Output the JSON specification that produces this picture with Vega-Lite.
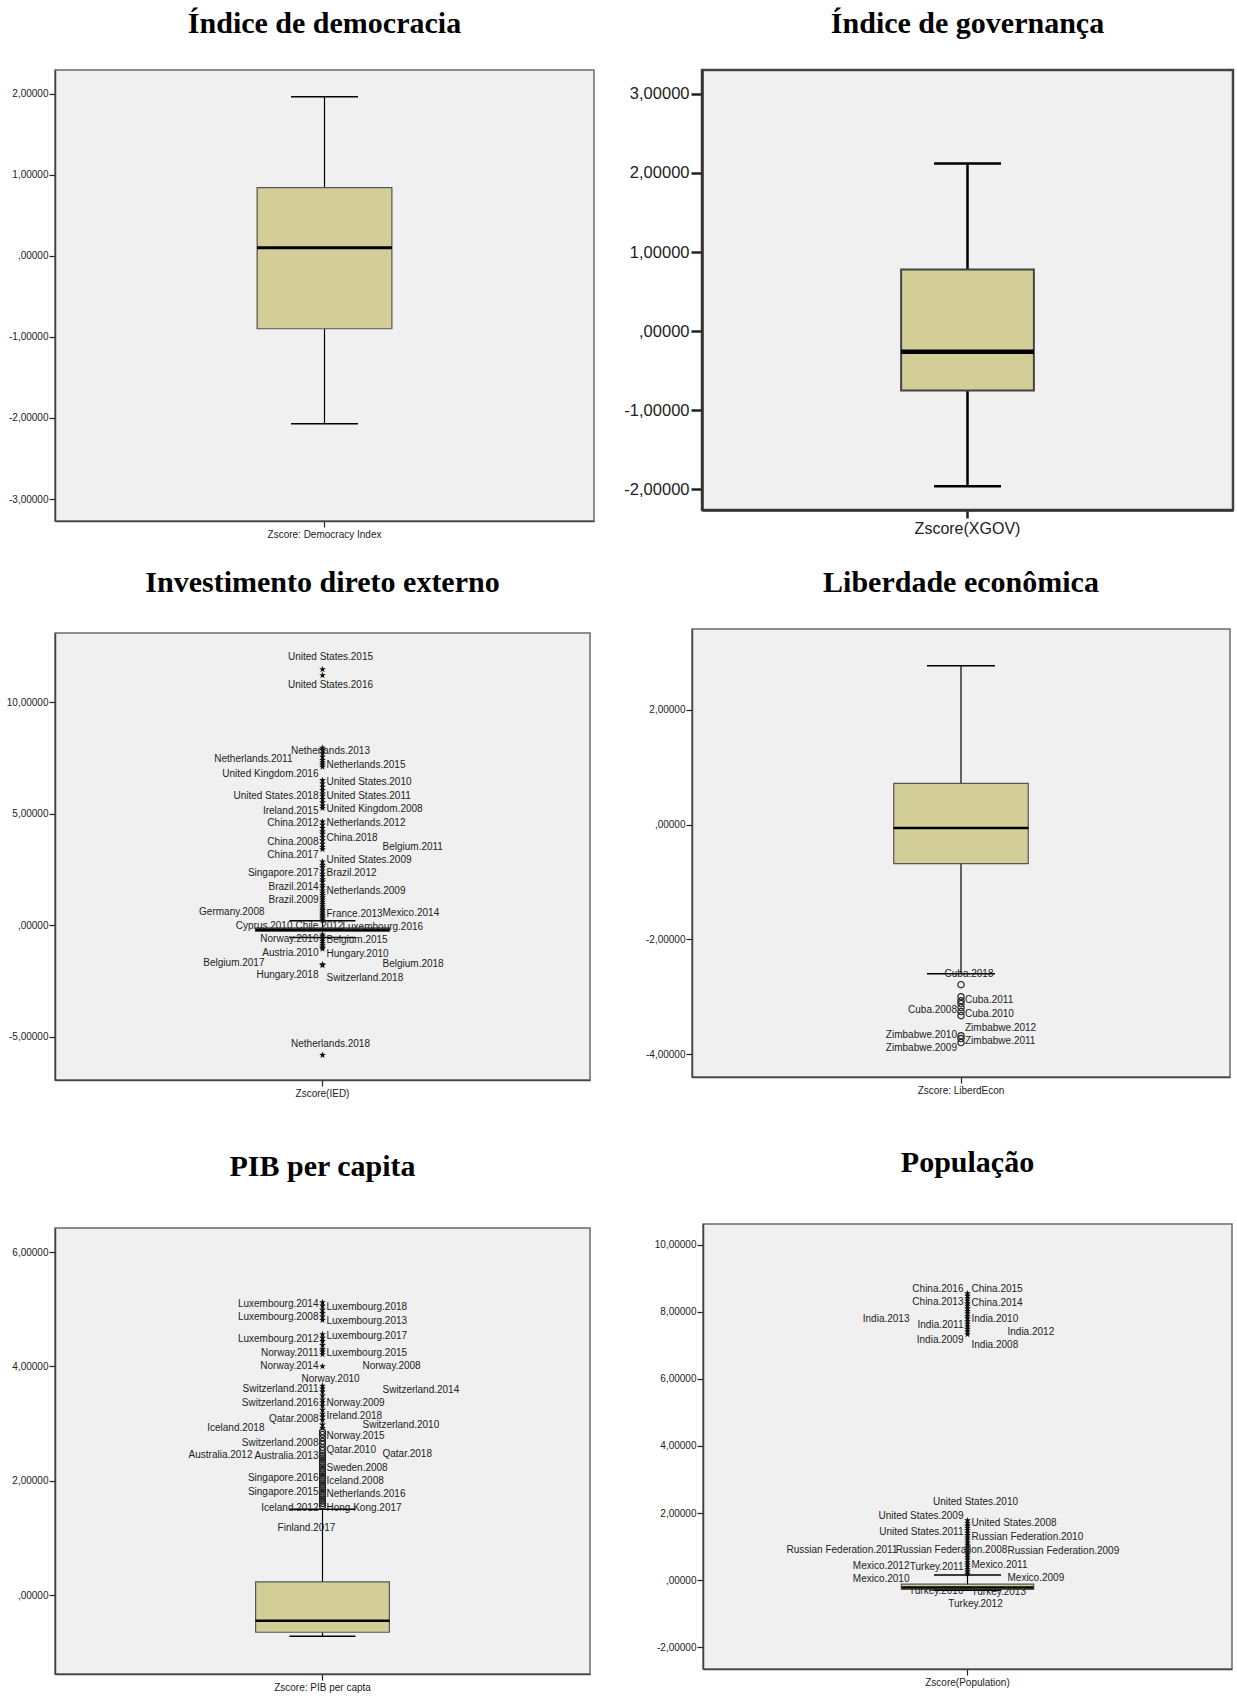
{
  "$schema": "https://vega.github.io/schema/vega-lite/v6.json",
  "background": "white",
  "padding": {"left": -4, "top": 7, "right": 0, "bottom": 0},
  "columns": 2,
  "align": "none",
  "spacing": {"row": 10, "column": 20},
  "config": {
    "view": {"fill": "#F0F0F0", "stroke": "#6a6a6a", "strokeWidth": 1.5},
    "title": {"font": "Liberation Serif", "fontSize": 30, "fontWeight": "bold", "color": "#000", "anchor": "middle"},
    "axis": {"grid": false, "labelFont": "Liberation Sans", "labelColor": "#222", "labelFontSize": 10, "domainColor": "#444", "domainWidth": 1.5, "tickColor": "#222", "tickSize": 6, "tickWidth": 1.2, "labelPadding": 1},
    "text": {"font": "Liberation Sans"}
  },
  "datasets": {
    "box": [
      {"var": "Zscore:  Democracy Index", "lo": -2.07, "q1": -0.9, "med": 0.1, "q3": 0.84, "hi": 1.96},
      {"var": "Zscore(XGOV)", "lo": -1.96, "q1": -0.75, "med": -0.26, "q3": 0.78, "hi": 2.12},
      {"var": "Zscore(IED)", "lo": -0.55, "q1": -0.28, "med": -0.2, "q3": -0.12, "hi": 0.2},
      {"var": "Zscore:  LiberdEcon", "lo": -2.6, "q1": -0.68, "med": -0.06, "q3": 0.72, "hi": 2.77},
      {"var": "Zscore:  PIB per capta", "lo": -0.72, "q1": -0.65, "med": -0.45, "q3": 0.23, "hi": 1.5},
      {"var": "Zscore(Population)", "lo": -0.3, "q1": -0.28, "med": -0.22, "q3": -0.12, "hi": 0.15}
    ],
    "out": [
      {"var": "Zscore(IED)", "v": 11.47, "kind": "x"}, {"var": "Zscore(IED)", "v": 11.2, "kind": "x"},
      {"var": "Zscore(IED)", "v": 7.95, "kind": "x"}, {"var": "Zscore(IED)", "v": 7.85, "kind": "x"},
      {"var": "Zscore(IED)", "v": 7.7, "kind": "x"}, {"var": "Zscore(IED)", "v": 7.55, "kind": "x"},
      {"var": "Zscore(IED)", "v": 7.4, "kind": "x"}, {"var": "Zscore(IED)", "v": 7.3, "kind": "x"},
      {"var": "Zscore(IED)", "v": 7.2, "kind": "x"}, {"var": "Zscore(IED)", "v": 7.1, "kind": "x"},
      {"var": "Zscore(IED)", "v": 6.5, "kind": "x"}, {"var": "Zscore(IED)", "v": 6.35, "kind": "x"},
      {"var": "Zscore(IED)", "v": 6.2, "kind": "x"}, {"var": "Zscore(IED)", "v": 6.05, "kind": "x"},
      {"var": "Zscore(IED)", "v": 5.9, "kind": "x"}, {"var": "Zscore(IED)", "v": 5.8, "kind": "x"},
      {"var": "Zscore(IED)", "v": 5.65, "kind": "x"}, {"var": "Zscore(IED)", "v": 5.5, "kind": "x"},
      {"var": "Zscore(IED)", "v": 5.35, "kind": "x"}, {"var": "Zscore(IED)", "v": 5.25, "kind": "x"},
      {"var": "Zscore(IED)", "v": 4.65, "kind": "x"}, {"var": "Zscore(IED)", "v": 4.5, "kind": "x"},
      {"var": "Zscore(IED)", "v": 4.35, "kind": "x"}, {"var": "Zscore(IED)", "v": 4.2, "kind": "x"},
      {"var": "Zscore(IED)", "v": 4.1, "kind": "x"}, {"var": "Zscore(IED)", "v": 3.95, "kind": "x"},
      {"var": "Zscore(IED)", "v": 3.8, "kind": "x"}, {"var": "Zscore(IED)", "v": 3.65, "kind": "x"},
      {"var": "Zscore(IED)", "v": 3.5, "kind": "x"}, {"var": "Zscore(IED)", "v": 3.4, "kind": "x"},
      {"var": "Zscore(IED)", "v": 2.85, "kind": "x"}, {"var": "Zscore(IED)", "v": 2.7, "kind": "x"},
      {"var": "Zscore(IED)", "v": 2.6, "kind": "x"}, {"var": "Zscore(IED)", "v": 2.45, "kind": "x"},
      {"var": "Zscore(IED)", "v": 2.3, "kind": "x"}, {"var": "Zscore(IED)", "v": 2.2, "kind": "x"},
      {"var": "Zscore(IED)", "v": 2.05, "kind": "x"}, {"var": "Zscore(IED)", "v": 1.95, "kind": "x"},
      {"var": "Zscore(IED)", "v": 1.8, "kind": "x"}, {"var": "Zscore(IED)", "v": 1.7, "kind": "x"},
      {"var": "Zscore(IED)", "v": 1.55, "kind": "x"}, {"var": "Zscore(IED)", "v": 1.45, "kind": "x"},
      {"var": "Zscore(IED)", "v": 1.35, "kind": "x"}, {"var": "Zscore(IED)", "v": 1.25, "kind": "x"},
      {"var": "Zscore(IED)", "v": 1.15, "kind": "x"}, {"var": "Zscore(IED)", "v": 1.05, "kind": "x"},
      {"var": "Zscore(IED)", "v": 0.95, "kind": "x"}, {"var": "Zscore(IED)", "v": 0.85, "kind": "x"},
      {"var": "Zscore(IED)", "v": 0.75, "kind": "x"}, {"var": "Zscore(IED)", "v": 0.68, "kind": "x"},
      {"var": "Zscore(IED)", "v": 0.6, "kind": "x"}, {"var": "Zscore(IED)", "v": 0.52, "kind": "x"},
      {"var": "Zscore(IED)", "v": 0.45, "kind": "x"}, {"var": "Zscore(IED)", "v": 0.38, "kind": "x"},
      {"var": "Zscore(IED)", "v": 0.3, "kind": "x"}, {"var": "Zscore(IED)", "v": 0.22, "kind": "x"},
      {"var": "Zscore(IED)", "v": -0.42, "kind": "x"}, {"var": "Zscore(IED)", "v": -0.5, "kind": "x"},
      {"var": "Zscore(IED)", "v": -0.6, "kind": "x"}, {"var": "Zscore(IED)", "v": -0.7, "kind": "x"},
      {"var": "Zscore(IED)", "v": -0.8, "kind": "x"}, {"var": "Zscore(IED)", "v": -0.9, "kind": "x"},
      {"var": "Zscore(IED)", "v": -1.0, "kind": "x"}, {"var": "Zscore(IED)", "v": -1.06, "kind": "x"},
      {"var": "Zscore(IED)", "v": -1.76, "kind": "x"}, {"var": "Zscore(IED)", "v": -1.8, "kind": "x"},
      {"var": "Zscore(IED)", "v": -5.82, "kind": "x"},
      {"var": "Zscore:  LiberdEcon", "v": -2.79, "kind": "o"}, {"var": "Zscore:  LiberdEcon", "v": -3.0, "kind": "o"},
      {"var": "Zscore:  LiberdEcon", "v": -3.07, "kind": "o"}, {"var": "Zscore:  LiberdEcon", "v": -3.12, "kind": "o"},
      {"var": "Zscore:  LiberdEcon", "v": -3.19, "kind": "o"}, {"var": "Zscore:  LiberdEcon", "v": -3.26, "kind": "o"},
      {"var": "Zscore:  LiberdEcon", "v": -3.33, "kind": "o"}, {"var": "Zscore:  LiberdEcon", "v": -3.68, "kind": "o"},
      {"var": "Zscore:  LiberdEcon", "v": -3.73, "kind": "o"}, {"var": "Zscore:  LiberdEcon", "v": -3.8, "kind": "o"},
      {"var": "Zscore:  PIB per capta", "v": 5.12, "kind": "x"}, {"var": "Zscore:  PIB per capta", "v": 5.06, "kind": "x"},
      {"var": "Zscore:  PIB per capta", "v": 4.99, "kind": "x"}, {"var": "Zscore:  PIB per capta", "v": 4.93, "kind": "x"},
      {"var": "Zscore:  PIB per capta", "v": 4.87, "kind": "x"}, {"var": "Zscore:  PIB per capta", "v": 4.81, "kind": "x"},
      {"var": "Zscore:  PIB per capta", "v": 4.56, "kind": "x"}, {"var": "Zscore:  PIB per capta", "v": 4.5, "kind": "x"},
      {"var": "Zscore:  PIB per capta", "v": 4.44, "kind": "x"}, {"var": "Zscore:  PIB per capta", "v": 4.37, "kind": "x"},
      {"var": "Zscore:  PIB per capta", "v": 4.3, "kind": "x"}, {"var": "Zscore:  PIB per capta", "v": 4.26, "kind": "x"},
      {"var": "Zscore:  PIB per capta", "v": 4.21, "kind": "x"}, {"var": "Zscore:  PIB per capta", "v": 4.0, "kind": "x"},
      {"var": "Zscore:  PIB per capta", "v": 3.66, "kind": "x"}, {"var": "Zscore:  PIB per capta", "v": 3.61, "kind": "x"},
      {"var": "Zscore:  PIB per capta", "v": 3.56, "kind": "x"}, {"var": "Zscore:  PIB per capta", "v": 3.49, "kind": "x"},
      {"var": "Zscore:  PIB per capta", "v": 3.42, "kind": "x"}, {"var": "Zscore:  PIB per capta", "v": 3.37, "kind": "x"},
      {"var": "Zscore:  PIB per capta", "v": 3.31, "kind": "x"}, {"var": "Zscore:  PIB per capta", "v": 3.24, "kind": "x"},
      {"var": "Zscore:  PIB per capta", "v": 3.17, "kind": "x"}, {"var": "Zscore:  PIB per capta", "v": 3.12, "kind": "x"},
      {"var": "Zscore:  PIB per capta", "v": 3.06, "kind": "x"}, {"var": "Zscore:  PIB per capta", "v": 2.98, "kind": "x"},
      {"var": "Zscore:  PIB per capta", "v": 2.92, "kind": "x"},
      {"var": "Zscore:  PIB per capta", "v": 2.86, "kind": "o"}, {"var": "Zscore:  PIB per capta", "v": 2.81, "kind": "o"},
      {"var": "Zscore:  PIB per capta", "v": 2.75, "kind": "o"}, {"var": "Zscore:  PIB per capta", "v": 2.69, "kind": "o"},
      {"var": "Zscore:  PIB per capta", "v": 2.64, "kind": "o"}, {"var": "Zscore:  PIB per capta", "v": 2.58, "kind": "o"},
      {"var": "Zscore:  PIB per capta", "v": 2.53, "kind": "o"}, {"var": "Zscore:  PIB per capta", "v": 2.48, "kind": "o"},
      {"var": "Zscore:  PIB per capta", "v": 2.44, "kind": "o"}, {"var": "Zscore:  PIB per capta", "v": 2.4, "kind": "o"},
      {"var": "Zscore:  PIB per capta", "v": 2.36, "kind": "o"}, {"var": "Zscore:  PIB per capta", "v": 2.32, "kind": "o"},
      {"var": "Zscore:  PIB per capta", "v": 2.28, "kind": "o"}, {"var": "Zscore:  PIB per capta", "v": 2.24, "kind": "o"},
      {"var": "Zscore:  PIB per capta", "v": 2.2, "kind": "o"}, {"var": "Zscore:  PIB per capta", "v": 2.16, "kind": "o"},
      {"var": "Zscore:  PIB per capta", "v": 2.12, "kind": "o"}, {"var": "Zscore:  PIB per capta", "v": 2.08, "kind": "o"},
      {"var": "Zscore:  PIB per capta", "v": 2.04, "kind": "o"}, {"var": "Zscore:  PIB per capta", "v": 2.0, "kind": "o"},
      {"var": "Zscore:  PIB per capta", "v": 1.96, "kind": "o"}, {"var": "Zscore:  PIB per capta", "v": 1.92, "kind": "o"},
      {"var": "Zscore:  PIB per capta", "v": 1.88, "kind": "o"}, {"var": "Zscore:  PIB per capta", "v": 1.84, "kind": "o"},
      {"var": "Zscore:  PIB per capta", "v": 1.8, "kind": "o"}, {"var": "Zscore:  PIB per capta", "v": 1.76, "kind": "o"},
      {"var": "Zscore:  PIB per capta", "v": 1.72, "kind": "o"}, {"var": "Zscore:  PIB per capta", "v": 1.68, "kind": "o"},
      {"var": "Zscore:  PIB per capta", "v": 1.64, "kind": "o"}, {"var": "Zscore:  PIB per capta", "v": 1.6, "kind": "o"},
      {"var": "Zscore:  PIB per capta", "v": 1.56, "kind": "o"},
      {"var": "Zscore(Population)", "v": 8.55, "kind": "x"}, {"var": "Zscore(Population)", "v": 8.48, "kind": "x"},
      {"var": "Zscore(Population)", "v": 8.4, "kind": "x"}, {"var": "Zscore(Population)", "v": 8.33, "kind": "x"},
      {"var": "Zscore(Population)", "v": 8.25, "kind": "x"}, {"var": "Zscore(Population)", "v": 8.18, "kind": "x"},
      {"var": "Zscore(Population)", "v": 8.1, "kind": "x"}, {"var": "Zscore(Population)", "v": 8.02, "kind": "x"},
      {"var": "Zscore(Population)", "v": 7.95, "kind": "x"}, {"var": "Zscore(Population)", "v": 7.87, "kind": "x"},
      {"var": "Zscore(Population)", "v": 7.8, "kind": "x"}, {"var": "Zscore(Population)", "v": 7.72, "kind": "x"},
      {"var": "Zscore(Population)", "v": 7.64, "kind": "x"}, {"var": "Zscore(Population)", "v": 7.57, "kind": "x"},
      {"var": "Zscore(Population)", "v": 7.49, "kind": "x"}, {"var": "Zscore(Population)", "v": 7.41, "kind": "x"},
      {"var": "Zscore(Population)", "v": 7.33, "kind": "x"},
      {"var": "Zscore(Population)", "v": 1.78, "kind": "x"}, {"var": "Zscore(Population)", "v": 1.7, "kind": "x"},
      {"var": "Zscore(Population)", "v": 1.63, "kind": "x"}, {"var": "Zscore(Population)", "v": 1.56, "kind": "x"},
      {"var": "Zscore(Population)", "v": 1.49, "kind": "x"}, {"var": "Zscore(Population)", "v": 1.41, "kind": "x"},
      {"var": "Zscore(Population)", "v": 1.34, "kind": "x"}, {"var": "Zscore(Population)", "v": 1.27, "kind": "x"},
      {"var": "Zscore(Population)", "v": 1.2, "kind": "x"}, {"var": "Zscore(Population)", "v": 1.12, "kind": "x"},
      {"var": "Zscore(Population)", "v": 1.05, "kind": "x"}, {"var": "Zscore(Population)", "v": 0.98, "kind": "x"},
      {"var": "Zscore(Population)", "v": 0.9, "kind": "x"}, {"var": "Zscore(Population)", "v": 0.83, "kind": "x"},
      {"var": "Zscore(Population)", "v": 0.76, "kind": "x"}, {"var": "Zscore(Population)", "v": 0.69, "kind": "x"},
      {"var": "Zscore(Population)", "v": 0.61, "kind": "x"}, {"var": "Zscore(Population)", "v": 0.54, "kind": "x"},
      {"var": "Zscore(Population)", "v": 0.47, "kind": "x"}, {"var": "Zscore(Population)", "v": 0.4, "kind": "x"},
      {"var": "Zscore(Population)", "v": 0.33, "kind": "x"}, {"var": "Zscore(Population)", "v": 0.26, "kind": "x"},
      {"var": "Zscore(Population)", "v": 0.19, "kind": "x"}
    ],
    "lab": [
      {"var": "Zscore(IED)", "name": "United States.2015", "v": 12.01, "side": "C"},
      {"var": "Zscore(IED)", "name": "United States.2016", "v": 10.75, "side": "C"},
      {"var": "Zscore(IED)", "name": "Netherlands.2013", "v": 7.83, "side": "C"},
      {"var": "Zscore(IED)", "name": "Netherlands.2011", "v": 7.43, "side": "L2"},
      {"var": "Zscore(IED)", "name": "Netherlands.2015", "v": 7.16, "side": "R"},
      {"var": "Zscore(IED)", "name": "United Kingdom.2016", "v": 6.8, "side": "L"},
      {"var": "Zscore(IED)", "name": "United States.2010", "v": 6.4, "side": "R"},
      {"var": "Zscore(IED)", "name": "United States.2018", "v": 5.77, "side": "L"},
      {"var": "Zscore(IED)", "name": "United States.2011", "v": 5.81, "side": "R"},
      {"var": "Zscore(IED)", "name": "Ireland.2015", "v": 5.14, "side": "L"},
      {"var": "Zscore(IED)", "name": "United Kingdom.2008", "v": 5.23, "side": "R"},
      {"var": "Zscore(IED)", "name": "China.2012", "v": 4.6, "side": "L"},
      {"var": "Zscore(IED)", "name": "Netherlands.2012", "v": 4.6, "side": "R"},
      {"var": "Zscore(IED)", "name": "China.2018", "v": 3.92, "side": "R"},
      {"var": "Zscore(IED)", "name": "China.2008", "v": 3.75, "side": "L"},
      {"var": "Zscore(IED)", "name": "Belgium.2011", "v": 3.52, "side": "R3"},
      {"var": "Zscore(IED)", "name": "China.2017", "v": 3.16, "side": "L"},
      {"var": "Zscore(IED)", "name": "United States.2009", "v": 2.94, "side": "R"},
      {"var": "Zscore(IED)", "name": "Singapore.2017", "v": 2.35, "side": "L"},
      {"var": "Zscore(IED)", "name": "Brazil.2012", "v": 2.35, "side": "R"},
      {"var": "Zscore(IED)", "name": "Brazil.2014", "v": 1.72, "side": "L"},
      {"var": "Zscore(IED)", "name": "Netherlands.2009", "v": 1.55, "side": "R"},
      {"var": "Zscore(IED)", "name": "Brazil.2009", "v": 1.14, "side": "L"},
      {"var": "Zscore(IED)", "name": "Germany.2008", "v": 0.6, "side": "L3"},
      {"var": "Zscore(IED)", "name": "France.2013", "v": 0.51, "side": "R"},
      {"var": "Zscore(IED)", "name": "Mexico.2014", "v": 0.56, "side": "R3"},
      {"var": "Zscore(IED)", "name": "Cyprus.2010", "v": -0.03, "side": "L2"},
      {"var": "Zscore(IED)", "name": "Chile.2012", "v": -0.03, "side": "C0"},
      {"var": "Zscore(IED)", "name": "Luxembourg.2016", "v": -0.07, "side": "R1"},
      {"var": "Zscore(IED)", "name": "Norway.2016", "v": -0.61, "side": "L"},
      {"var": "Zscore(IED)", "name": "Belgium.2015", "v": -0.66, "side": "R"},
      {"var": "Zscore(IED)", "name": "Austria.2010", "v": -1.24, "side": "L"},
      {"var": "Zscore(IED)", "name": "Hungary.2010", "v": -1.28, "side": "R"},
      {"var": "Zscore(IED)", "name": "Belgium.2017", "v": -1.69, "side": "L3"},
      {"var": "Zscore(IED)", "name": "Belgium.2018", "v": -1.73, "side": "R3"},
      {"var": "Zscore(IED)", "name": "Hungary.2018", "v": -2.23, "side": "L"},
      {"var": "Zscore(IED)", "name": "Switzerland.2018", "v": -2.36, "side": "R"},
      {"var": "Zscore(IED)", "name": "Netherlands.2018", "v": -5.32, "side": "C"},
      {"var": "Zscore:  LiberdEcon", "name": "Cuba.2018", "v": -2.6, "side": "C"},
      {"var": "Zscore:  LiberdEcon", "name": "Cuba.2011", "v": -3.05, "side": "R"},
      {"var": "Zscore:  LiberdEcon", "name": "Cuba.2008", "v": -3.23, "side": "L"},
      {"var": "Zscore:  LiberdEcon", "name": "Cuba.2010", "v": -3.3, "side": "R"},
      {"var": "Zscore:  LiberdEcon", "name": "Zimbabwe.2012", "v": -3.54, "side": "R"},
      {"var": "Zscore:  LiberdEcon", "name": "Zimbabwe.2010", "v": -3.66, "side": "L"},
      {"var": "Zscore:  LiberdEcon", "name": "Zimbabwe.2011", "v": -3.77, "side": "R"},
      {"var": "Zscore:  LiberdEcon", "name": "Zimbabwe.2009", "v": -3.89, "side": "L"},
      {"var": "Zscore:  PIB per capta", "name": "Luxembourg.2014", "v": 5.09, "side": "L"},
      {"var": "Zscore:  PIB per capta", "name": "Luxembourg.2018", "v": 5.03, "side": "R"},
      {"var": "Zscore:  PIB per capta", "name": "Luxembourg.2008", "v": 4.86, "side": "L"},
      {"var": "Zscore:  PIB per capta", "name": "Luxembourg.2013", "v": 4.79, "side": "R"},
      {"var": "Zscore:  PIB per capta", "name": "Luxembourg.2012", "v": 4.48, "side": "L"},
      {"var": "Zscore:  PIB per capta", "name": "Luxembourg.2017", "v": 4.53, "side": "R"},
      {"var": "Zscore:  PIB per capta", "name": "Norway.2011", "v": 4.23, "side": "L"},
      {"var": "Zscore:  PIB per capta", "name": "Luxembourg.2015", "v": 4.23, "side": "R"},
      {"var": "Zscore:  PIB per capta", "name": "Norway.2014", "v": 4.0, "side": "L"},
      {"var": "Zscore:  PIB per capta", "name": "Norway.2008", "v": 4.0, "side": "R2"},
      {"var": "Zscore:  PIB per capta", "name": "Norway.2010", "v": 3.78, "side": "C"},
      {"var": "Zscore:  PIB per capta", "name": "Switzerland.2011", "v": 3.6, "side": "L"},
      {"var": "Zscore:  PIB per capta", "name": "Switzerland.2014", "v": 3.58, "side": "R3"},
      {"var": "Zscore:  PIB per capta", "name": "Switzerland.2016", "v": 3.36, "side": "L"},
      {"var": "Zscore:  PIB per capta", "name": "Norway.2009", "v": 3.36, "side": "R"},
      {"var": "Zscore:  PIB per capta", "name": "Qatar.2008", "v": 3.08, "side": "L"},
      {"var": "Zscore:  PIB per capta", "name": "Ireland.2018", "v": 3.13, "side": "R"},
      {"var": "Zscore:  PIB per capta", "name": "Iceland.2018", "v": 2.92, "side": "L3"},
      {"var": "Zscore:  PIB per capta", "name": "Switzerland.2010", "v": 2.97, "side": "R2"},
      {"var": "Zscore:  PIB per capta", "name": "Switzerland.2008", "v": 2.66, "side": "L"},
      {"var": "Zscore:  PIB per capta", "name": "Norway.2015", "v": 2.78, "side": "R"},
      {"var": "Zscore:  PIB per capta", "name": "Australia.2012", "v": 2.45, "side": "L4"},
      {"var": "Zscore:  PIB per capta", "name": "Australia.2013", "v": 2.43, "side": "L"},
      {"var": "Zscore:  PIB per capta", "name": "Qatar.2010", "v": 2.53, "side": "R"},
      {"var": "Zscore:  PIB per capta", "name": "Qatar.2018", "v": 2.47, "side": "R3"},
      {"var": "Zscore:  PIB per capta", "name": "Sweden.2008", "v": 2.22, "side": "R"},
      {"var": "Zscore:  PIB per capta", "name": "Singapore.2016", "v": 2.05, "side": "L"},
      {"var": "Zscore:  PIB per capta", "name": "Iceland.2008", "v": 1.99, "side": "R"},
      {"var": "Zscore:  PIB per capta", "name": "Singapore.2015", "v": 1.8, "side": "L"},
      {"var": "Zscore:  PIB per capta", "name": "Netherlands.2016", "v": 1.77, "side": "R"},
      {"var": "Zscore:  PIB per capta", "name": "Iceland.2012", "v": 1.52, "side": "L"},
      {"var": "Zscore:  PIB per capta", "name": "Hong Kong.2017", "v": 1.52, "side": "R"},
      {"var": "Zscore:  PIB per capta", "name": "Finland.2017", "v": 1.17, "side": "CL"},
      {"var": "Zscore(Population)", "name": "China.2016", "v": 8.68, "side": "L"},
      {"var": "Zscore(Population)", "name": "China.2015", "v": 8.68, "side": "R"},
      {"var": "Zscore(Population)", "name": "China.2013", "v": 8.29, "side": "L"},
      {"var": "Zscore(Population)", "name": "China.2014", "v": 8.26, "side": "R"},
      {"var": "Zscore(Population)", "name": "India.2013", "v": 7.79, "side": "L3"},
      {"var": "Zscore(Population)", "name": "India.2010", "v": 7.79, "side": "R"},
      {"var": "Zscore(Population)", "name": "India.2011", "v": 7.61, "side": "L"},
      {"var": "Zscore(Population)", "name": "India.2012", "v": 7.4, "side": "R2"},
      {"var": "Zscore(Population)", "name": "India.2009", "v": 7.16, "side": "L"},
      {"var": "Zscore(Population)", "name": "India.2008", "v": 7.01, "side": "R"},
      {"var": "Zscore(Population)", "name": "United States.2010", "v": 2.32, "side": "C"},
      {"var": "Zscore(Population)", "name": "United States.2009", "v": 1.91, "side": "L"},
      {"var": "Zscore(Population)", "name": "United States.2008", "v": 1.7, "side": "R"},
      {"var": "Zscore(Population)", "name": "United States.2011", "v": 1.43, "side": "L"},
      {"var": "Zscore(Population)", "name": "Russian Federation.2010", "v": 1.28, "side": "R"},
      {"var": "Zscore(Population)", "name": "Russian Federation.2011", "v": 0.89, "side": "L4"},
      {"var": "Zscore(Population)", "name": "Russian Federation.2008", "v": 0.89, "side": "CL"},
      {"var": "Zscore(Population)", "name": "Russian Federation.2009", "v": 0.86, "side": "R2"},
      {"var": "Zscore(Population)", "name": "Mexico.2012", "v": 0.42, "side": "L3"},
      {"var": "Zscore(Population)", "name": "Turkey.2011", "v": 0.39, "side": "L"},
      {"var": "Zscore(Population)", "name": "Mexico.2011", "v": 0.45, "side": "R"},
      {"var": "Zscore(Population)", "name": "Mexico.2010", "v": 0.03, "side": "L3"},
      {"var": "Zscore(Population)", "name": "Mexico.2009", "v": 0.06, "side": "R2"},
      {"var": "Zscore(Population)", "name": "Turkey.2010", "v": -0.33, "side": "L"},
      {"var": "Zscore(Population)", "name": "Turkey.2013", "v": -0.36, "side": "R"},
      {"var": "Zscore(Population)", "name": "Turkey.2012", "v": -0.72, "side": "C"}
    ]
  },
  "concat": [
    {
      "width": 539, "height": 451,
      "title": {"text": "Índice de democracia", "offset": 31},
      "encoding": {"x": {"field": "var", "type": "nominal", "scale": {"paddingInner": 0, "paddingOuter": 0}, "axis": {"title": null, "labelAngle": 0, "minExtent": 35, "maxExtent": 35, "labelPadding": 2}}},
      "layer": [
        {"data": {"name": "box"}, "transform": [{"filter": "datum.var == 'Zscore:  Democracy Index'"}], "mark": {"type": "rule", "color": "#000", "strokeWidth": 1.2},
         "encoding": {"y": {"field": "lo", "type": "quantitative", "scale": {"domain": [-3.27, 2.29], "nice": false, "zero": false}, "axis": {"title": null, "values": [-3, -2, -1, 0, 1, 2], "labelExpr": "datum.value == 0 ? ',00000' : datum.value + ',00000'", "minExtent": 54, "maxExtent": 54}}, "y2": {"field": "hi"}}},
        {"data": {"name": "box"}, "transform": [{"filter": "datum.var == 'Zscore:  Democracy Index'"}], "mark": {"type": "bar", "width": {"band": 0.25}, "fill": "#D3CE98", "stroke": "#555", "strokeWidth": 1.2},
         "encoding": {"y": {"field": "q1", "type": "quantitative"}, "y2": {"field": "q3"}}},
        {"data": {"name": "box"}, "transform": [{"filter": "datum.var == 'Zscore:  Democracy Index'"}], "mark": {"type": "tick", "size": 67, "thickness": 1.5, "color": "#000", "opacity": 1},
         "encoding": {"y": {"field": "lo", "type": "quantitative"}}},
        {"data": {"name": "box"}, "transform": [{"filter": "datum.var == 'Zscore:  Democracy Index'"}], "mark": {"type": "tick", "size": 67, "thickness": 1.5, "color": "#000", "opacity": 1},
         "encoding": {"y": {"field": "hi", "type": "quantitative"}}},
        {"data": {"name": "box"}, "transform": [{"filter": "datum.var == 'Zscore:  Democracy Index'"}], "mark": {"type": "tick", "size": 135, "thickness": 3, "color": "#000", "opacity": 1},
         "encoding": {"y": {"field": "med", "type": "quantitative"}}}
      ]
    },
    {
      "width": 531, "height": 440,
      "title": {"text": "Índice de governança", "offset": 31},
      "view": {"stroke": "#444", "strokeWidth": 2.5},
      "encoding": {"x": {"field": "var", "type": "nominal", "scale": {"paddingInner": 0, "paddingOuter": 0}, "axis": {"title": null, "labelAngle": 0, "minExtent": 35, "maxExtent": 35, "labelPadding": 2, "labelFontSize": 16, "tickSize": 8, "tickWidth": 2.5, "domainWidth": 2.5, "domainColor": "#333"}}},
      "layer": [
        {"data": {"name": "box"}, "transform": [{"filter": "datum.var == 'Zscore(XGOV)'"}], "mark": {"type": "rule", "color": "#000", "strokeWidth": 2.5},
         "encoding": {"y": {"field": "lo", "type": "quantitative", "scale": {"domain": [-2.26, 3.3], "nice": false, "zero": false}, "axis": {"title": null, "values": [-2, -1, 0, 1, 2, 3], "labelExpr": "datum.value == 0 ? ',00000' : datum.value + ',00000'", "labelFontSize": 16.5, "tickSize": 11, "tickWidth": 2.5, "domainWidth": 2.5, "domainColor": "#333", "labelPadding": 2, "minExtent": 85, "maxExtent": 85}}, "y2": {"field": "hi"}}},
        {"data": {"name": "box"}, "transform": [{"filter": "datum.var == 'Zscore(XGOV)'"}], "mark": {"type": "bar", "width": {"band": 0.25}, "fill": "#D3CE98", "stroke": "#444", "strokeWidth": 2},
         "encoding": {"y": {"field": "q1", "type": "quantitative"}, "y2": {"field": "q3"}}},
        {"data": {"name": "box"}, "transform": [{"filter": "datum.var == 'Zscore(XGOV)'"}], "mark": {"type": "tick", "size": 67, "thickness": 2.5, "color": "#000", "opacity": 1},
         "encoding": {"y": {"field": "lo", "type": "quantitative"}}},
        {"data": {"name": "box"}, "transform": [{"filter": "datum.var == 'Zscore(XGOV)'"}], "mark": {"type": "tick", "size": 67, "thickness": 2.5, "color": "#000", "opacity": 1},
         "encoding": {"y": {"field": "hi", "type": "quantitative"}}},
        {"data": {"name": "box"}, "transform": [{"filter": "datum.var == 'Zscore(XGOV)'"}], "mark": {"type": "tick", "size": 133, "thickness": 4.5, "color": "#000", "opacity": 1},
         "encoding": {"y": {"field": "med", "type": "quantitative"}}}
      ]
    },
    {
      "width": 535, "height": 447,
      "title": {"text": "Investimento direto externo", "offset": 35},
      "encoding": {"x": {"field": "var", "type": "nominal", "scale": {"paddingInner": 0, "paddingOuter": 0}, "axis": {"title": null, "labelAngle": 0, "minExtent": 59, "maxExtent": 59, "labelPadding": 2}}},
      "layer": [
        {"data": {"name": "box"}, "transform": [{"filter": "datum.var == 'Zscore(IED)'"}], "mark": {"type": "rule", "color": "#000", "strokeWidth": 1.2},
         "encoding": {"y": {"field": "lo", "type": "quantitative", "scale": {"domain": [-6.94, 13.1], "nice": false, "zero": false}, "axis": {"title": null, "values": [-5, 0, 5, 10], "labelExpr": "datum.value == 0 ? ',00000' : datum.value + ',00000'", "minExtent": 58, "maxExtent": 58}}, "y2": {"field": "hi"}}},
        {"data": {"name": "box"}, "transform": [{"filter": "datum.var == 'Zscore(IED)'"}], "mark": {"type": "bar", "width": {"band": 0.25}, "fill": "#D3CE98", "stroke": "#555", "strokeWidth": 1.2},
         "encoding": {"y": {"field": "q1", "type": "quantitative"}, "y2": {"field": "q3"}}},
        {"data": {"name": "box"}, "transform": [{"filter": "datum.var == 'Zscore(IED)'"}], "mark": {"type": "tick", "size": 66, "thickness": 1.5, "color": "#000", "opacity": 1},
         "encoding": {"y": {"field": "lo", "type": "quantitative"}}},
        {"data": {"name": "box"}, "transform": [{"filter": "datum.var == 'Zscore(IED)'"}], "mark": {"type": "tick", "size": 66, "thickness": 1.5, "color": "#000", "opacity": 1},
         "encoding": {"y": {"field": "hi", "type": "quantitative"}}},
        {"data": {"name": "box"}, "transform": [{"filter": "datum.var == 'Zscore(IED)'"}], "mark": {"type": "tick", "size": 134, "thickness": 2.5, "color": "#000", "opacity": 1},
         "encoding": {"y": {"field": "med", "type": "quantitative"}}},
        {"data": {"name": "out"}, "transform": [{"filter": "datum.var == 'Zscore(IED)' && datum.kind == 'x'"}], "mark": {"type": "point", "shape": "M0,-1L0.235,-0.324L0.951,-0.309L0.38,0.124L0.588,0.809L0,0.4L-0.588,0.809L-0.38,0.124L-0.951,-0.309L-0.235,-0.324Z", "filled": true, "color": "#111", "size": 50, "opacity": 1},
         "encoding": {"y": {"field": "v", "type": "quantitative"}}},
        {"data": {"name": "lab"}, "transform": [{"filter": "datum.var == 'Zscore(IED)'"}], "mark": {"type": "text", "fontSize": 10, "color": "#222", "baseline": "middle", "align": {"expr": "indexof(['L','L2','L3','L4'], datum.side) >= 0 ? 'right' : (indexof(['C','C0','CL'], datum.side) >= 0 ? 'center' : 'left')"}, "dx": {"expr": "datum.side=='L'?-4:datum.side=='R'?4:datum.side=='C'?8:datum.side=='C0'?-3:datum.side=='CL'?-16:datum.side=='L2'?-30:datum.side=='L3'?-58:datum.side=='L4'?-70:datum.side=='R1'?20:datum.side=='R2'?40:datum.side=='R3'?60:0"}},
         "encoding": {"y": {"field": "v", "type": "quantitative"}, "text": {"field": "name"}}}
      ]
    },
    {
      "width": 538, "height": 448,
      "title": {"text": "Liberdade econômica", "offset": 31},
      "encoding": {"x": {"field": "var", "type": "nominal", "scale": {"paddingInner": 0, "paddingOuter": 0}, "axis": {"title": null, "labelAngle": 0, "minExtent": 59, "maxExtent": 59, "labelPadding": 2}}},
      "layer": [
        {"data": {"name": "box"}, "transform": [{"filter": "datum.var == 'Zscore:  LiberdEcon'"}], "mark": {"type": "rule", "color": "#000", "strokeWidth": 1.2},
         "encoding": {"y": {"field": "lo", "type": "quantitative", "scale": {"domain": [-4.4, 3.41], "nice": false, "zero": false}, "axis": {"title": null, "values": [-4, -2, 0, 2], "labelExpr": "datum.value == 0 ? ',00000' : datum.value + ',00000'", "minExtent": 76, "maxExtent": 76}}, "y2": {"field": "hi"}}},
        {"data": {"name": "box"}, "transform": [{"filter": "datum.var == 'Zscore:  LiberdEcon'"}], "mark": {"type": "bar", "width": {"band": 0.25}, "fill": "#D3CE98", "stroke": "#555", "strokeWidth": 1.2},
         "encoding": {"y": {"field": "q1", "type": "quantitative"}, "y2": {"field": "q3"}}},
        {"data": {"name": "box"}, "transform": [{"filter": "datum.var == 'Zscore:  LiberdEcon'"}], "mark": {"type": "tick", "size": 68, "thickness": 1.5, "color": "#000", "opacity": 1},
         "encoding": {"y": {"field": "lo", "type": "quantitative"}}},
        {"data": {"name": "box"}, "transform": [{"filter": "datum.var == 'Zscore:  LiberdEcon'"}], "mark": {"type": "tick", "size": 68, "thickness": 1.5, "color": "#000", "opacity": 1},
         "encoding": {"y": {"field": "hi", "type": "quantitative"}}},
        {"data": {"name": "box"}, "transform": [{"filter": "datum.var == 'Zscore:  LiberdEcon'"}], "mark": {"type": "tick", "size": 135, "thickness": 2.5, "color": "#000", "opacity": 1},
         "encoding": {"y": {"field": "med", "type": "quantitative"}}},
        {"data": {"name": "out"}, "transform": [{"filter": "datum.var == 'Zscore:  LiberdEcon' && datum.kind == 'o'"}], "mark": {"type": "point", "shape": "circle", "filled": false, "stroke": "#222", "strokeWidth": 1.2, "size": 40, "opacity": 1},
         "encoding": {"y": {"field": "v", "type": "quantitative"}}},
        {"data": {"name": "lab"}, "transform": [{"filter": "datum.var == 'Zscore:  LiberdEcon'"}], "mark": {"type": "text", "fontSize": 10, "color": "#222", "baseline": "middle", "align": {"expr": "indexof(['L','L2','L3','L4'], datum.side) >= 0 ? 'right' : (indexof(['C','C0','CL'], datum.side) >= 0 ? 'center' : 'left')"}, "dx": {"expr": "datum.side=='L'?-4:datum.side=='R'?4:datum.side=='C'?8:datum.side=='C0'?-3:datum.side=='CL'?-16:datum.side=='L2'?-30:datum.side=='L3'?-58:datum.side=='L4'?-70:datum.side=='R1'?20:datum.side=='R2'?40:datum.side=='R3'?60:0"}},
         "encoding": {"y": {"field": "v", "type": "quantitative"}, "text": {"field": "name"}}}
      ]
    },
    {
      "width": 535, "height": 446,
      "title": {"text": "PIB per capita", "offset": 46},
      "encoding": {"x": {"field": "var", "type": "nominal", "scale": {"paddingInner": 0, "paddingOuter": 0}, "axis": {"title": null, "labelAngle": 0, "minExtent": 20, "maxExtent": 20, "labelPadding": 2}}},
      "layer": [
        {"data": {"name": "box"}, "transform": [{"filter": "datum.var == 'Zscore:  PIB per capta'"}], "mark": {"type": "rule", "color": "#000", "strokeWidth": 1.2},
         "encoding": {"y": {"field": "lo", "type": "quantitative", "scale": {"domain": [-1.38, 6.42], "nice": false, "zero": false}, "axis": {"title": null, "values": [0, 2, 4, 6], "labelExpr": "datum.value == 0 ? ',00000' : datum.value + ',00000'", "minExtent": 58, "maxExtent": 58}}, "y2": {"field": "hi"}}},
        {"data": {"name": "box"}, "transform": [{"filter": "datum.var == 'Zscore:  PIB per capta'"}], "mark": {"type": "bar", "width": {"band": 0.25}, "fill": "#D3CE98", "stroke": "#555", "strokeWidth": 1.2},
         "encoding": {"y": {"field": "q1", "type": "quantitative"}, "y2": {"field": "q3"}}},
        {"data": {"name": "box"}, "transform": [{"filter": "datum.var == 'Zscore:  PIB per capta'"}], "mark": {"type": "tick", "size": 66, "thickness": 1.5, "color": "#000", "opacity": 1},
         "encoding": {"y": {"field": "lo", "type": "quantitative"}}},
        {"data": {"name": "box"}, "transform": [{"filter": "datum.var == 'Zscore:  PIB per capta'"}], "mark": {"type": "tick", "size": 66, "thickness": 1.5, "color": "#000", "opacity": 1},
         "encoding": {"y": {"field": "hi", "type": "quantitative"}}},
        {"data": {"name": "box"}, "transform": [{"filter": "datum.var == 'Zscore:  PIB per capta'"}], "mark": {"type": "tick", "size": 134, "thickness": 2.5, "color": "#000", "opacity": 1},
         "encoding": {"y": {"field": "med", "type": "quantitative"}}},
        {"data": {"name": "out"}, "transform": [{"filter": "datum.var == 'Zscore:  PIB per capta' && datum.kind == 'o'"}], "mark": {"type": "point", "shape": "circle", "filled": false, "stroke": "#222", "strokeWidth": 1.2, "size": 36, "opacity": 1},
         "encoding": {"y": {"field": "v", "type": "quantitative"}}},
        {"data": {"name": "out"}, "transform": [{"filter": "datum.var == 'Zscore:  PIB per capta' && datum.kind == 'x'"}], "mark": {"type": "point", "shape": "M0,-1L0.235,-0.324L0.951,-0.309L0.38,0.124L0.588,0.809L0,0.4L-0.588,0.809L-0.38,0.124L-0.951,-0.309L-0.235,-0.324Z", "filled": true, "color": "#111", "size": 50, "opacity": 1},
         "encoding": {"y": {"field": "v", "type": "quantitative"}}},
        {"data": {"name": "lab"}, "transform": [{"filter": "datum.var == 'Zscore:  PIB per capta'"}], "mark": {"type": "text", "fontSize": 10, "color": "#222", "baseline": "middle", "align": {"expr": "indexof(['L','L2','L3','L4'], datum.side) >= 0 ? 'right' : (indexof(['C','C0','CL'], datum.side) >= 0 ? 'center' : 'left')"}, "dx": {"expr": "datum.side=='L'?-4:datum.side=='R'?4:datum.side=='C'?8:datum.side=='C0'?-3:datum.side=='CL'?-16:datum.side=='L2'?-30:datum.side=='L3'?-58:datum.side=='L4'?-70:datum.side=='R1'?20:datum.side=='R2'?40:datum.side=='R3'?60:0"}},
         "encoding": {"y": {"field": "v", "type": "quantitative"}, "text": {"field": "name"}}}
      ]
    },
    {
      "width": 529, "height": 445,
      "title": {"text": "População", "offset": 46},
      "encoding": {"x": {"field": "var", "type": "nominal", "scale": {"paddingInner": 0, "paddingOuter": 0}, "axis": {"title": null, "labelAngle": 0, "minExtent": 20, "maxExtent": 20, "labelPadding": 2}}},
      "layer": [
        {"data": {"name": "box"}, "transform": [{"filter": "datum.var == 'Zscore(Population)'"}], "mark": {"type": "rule", "color": "#000", "strokeWidth": 1.2},
         "encoding": {"y": {"field": "lo", "type": "quantitative", "scale": {"domain": [-2.65, 10.62], "nice": false, "zero": false}, "axis": {"title": null, "values": [-2, 0, 2, 4, 6, 8, 10], "labelExpr": "datum.value == 0 ? ',00000' : datum.value + ',00000'", "minExtent": 87, "maxExtent": 87}}, "y2": {"field": "hi"}}},
        {"data": {"name": "box"}, "transform": [{"filter": "datum.var == 'Zscore(Population)'"}], "mark": {"type": "bar", "width": {"band": 0.25}, "fill": "#D3CE98", "stroke": "#555", "strokeWidth": 1.2},
         "encoding": {"y": {"field": "q1", "type": "quantitative"}, "y2": {"field": "q3"}}},
        {"data": {"name": "box"}, "transform": [{"filter": "datum.var == 'Zscore(Population)'"}], "mark": {"type": "tick", "size": 67, "thickness": 1.5, "color": "#000", "opacity": 1},
         "encoding": {"y": {"field": "lo", "type": "quantitative"}}},
        {"data": {"name": "box"}, "transform": [{"filter": "datum.var == 'Zscore(Population)'"}], "mark": {"type": "tick", "size": 67, "thickness": 1.5, "color": "#000", "opacity": 1},
         "encoding": {"y": {"field": "hi", "type": "quantitative"}}},
        {"data": {"name": "box"}, "transform": [{"filter": "datum.var == 'Zscore(Population)'"}], "mark": {"type": "tick", "size": 132, "thickness": 2.5, "color": "#000", "opacity": 1},
         "encoding": {"y": {"field": "med", "type": "quantitative"}}},
        {"data": {"name": "out"}, "transform": [{"filter": "datum.var == 'Zscore(Population)' && datum.kind == 'x'"}], "mark": {"type": "point", "shape": "M0,-1L0.235,-0.324L0.951,-0.309L0.38,0.124L0.588,0.809L0,0.4L-0.588,0.809L-0.38,0.124L-0.951,-0.309L-0.235,-0.324Z", "filled": true, "color": "#111", "size": 50, "opacity": 1},
         "encoding": {"y": {"field": "v", "type": "quantitative"}}},
        {"data": {"name": "lab"}, "transform": [{"filter": "datum.var == 'Zscore(Population)'"}], "mark": {"type": "text", "fontSize": 10, "color": "#222", "baseline": "middle", "align": {"expr": "indexof(['L','L2','L3','L4'], datum.side) >= 0 ? 'right' : (indexof(['C','C0','CL'], datum.side) >= 0 ? 'center' : 'left')"}, "dx": {"expr": "datum.side=='L'?-4:datum.side=='R'?4:datum.side=='C'?8:datum.side=='C0'?-3:datum.side=='CL'?-16:datum.side=='L2'?-30:datum.side=='L3'?-58:datum.side=='L4'?-70:datum.side=='R1'?20:datum.side=='R2'?40:datum.side=='R3'?60:0"}},
         "encoding": {"y": {"field": "v", "type": "quantitative"}, "text": {"field": "name"}}}
      ]
    }
  ]
}
